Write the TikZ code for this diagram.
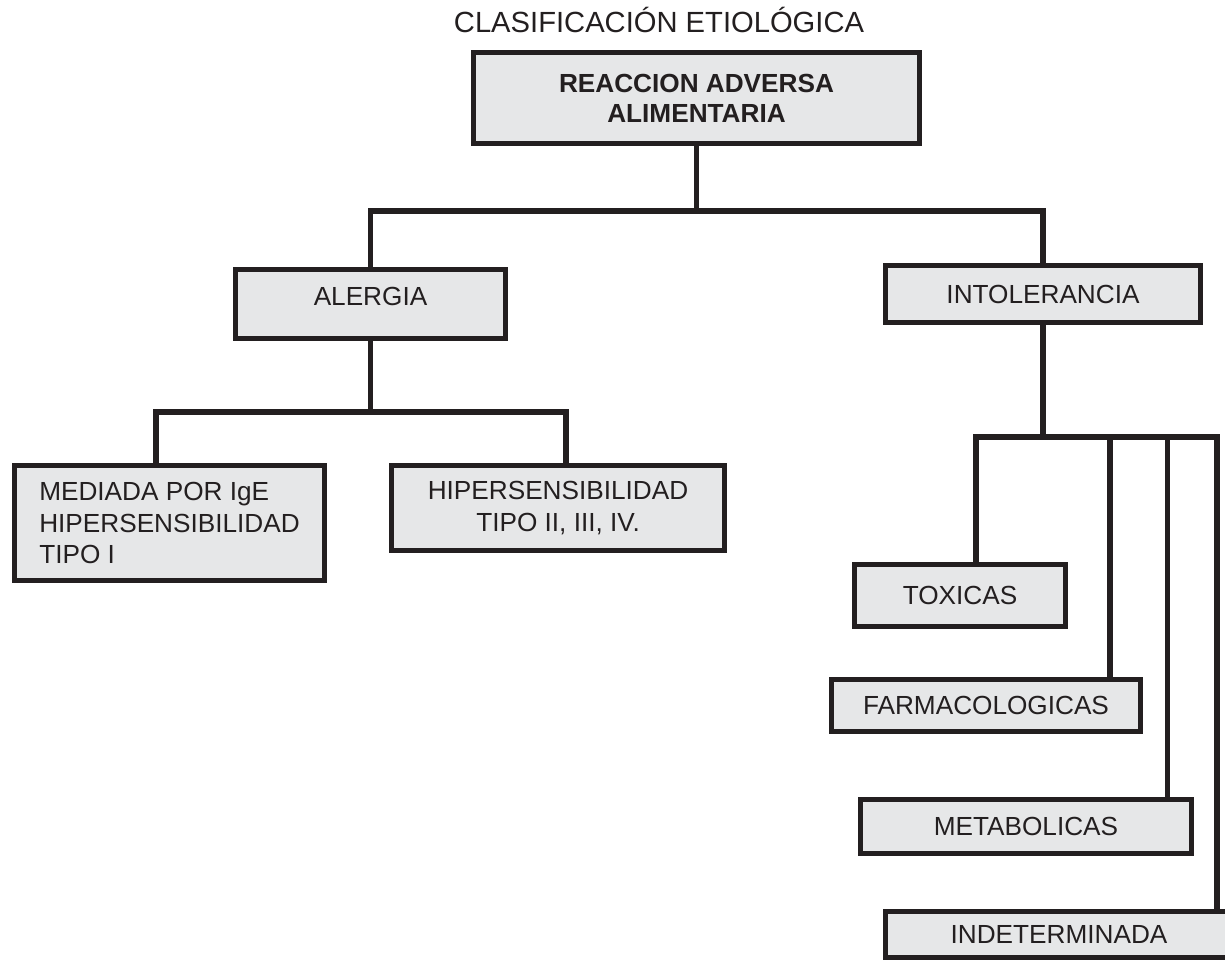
\documentclass[tikz,border=0pt]{standalone}
\usepackage{fontspec}
\setmainfont{Liberation Sans}
\definecolor{ink}{HTML}{231F20}
\definecolor{boxgray}{HTML}{E6E7E8}
\tikzset{
    box/.style={draw=ink, fill=boxgray, line width=3.1pt, inner sep=0pt, outer sep=0pt,
        text=ink, font=\fontsize{14.9}{17.8}\selectfont, align=center},
    tag/.style={box, text height=0.375cm, text depth=0cm},
    wire/.style={draw=ink, line width=3.2pt},
}
\begin{document}
\begin{tikzpicture}
        \clip (0,0) rectangle (24.5,-19.2);
        %% title
        \node[anchor=base, text=ink, font=\fontsize{16.6}{19}\selectfont] (title) at (13.18,-0.66) {CLASIFICACIÓN ETIOLÓGICA};
        %% root
        \node[box, font=\fontsize{14.9}{17}\selectfont\bfseries, minimum width=8.92cm, minimum height=1.82cm] (raa) at (13.93,-1.96) {REACCION ADVERSA\\ALIMENTARIA};
        %% first level
        \node[tag, text depth=0.32cm, minimum width=5.40cm, minimum height=1.38cm] (alergia) at (7.41,-6.08) {ALERGIA};
        \node[tag, minimum width=6.30cm, minimum height=1.14cm] (intol) at (20.86,-5.88) {INTOLERANCIA};
        %% alergia branch
        \node[box, align=left, minimum width=6.20cm, minimum height=2.30cm] (mediada) at (3.39,-10.46) {MEDIADA POR IgE\\HIPERSENSIBILIDAD\\TIPO I};
        \node[box, minimum width=6.66cm, minimum height=1.70cm] (hiper) at (11.16,-10.16) {HIPERSENSIBILIDAD\\TIPO II, III, IV.};
        %% intolerancia branch
        \node[tag, minimum width=4.22cm, minimum height=1.24cm] (toxicas) at (19.20,-11.91) {TOXICAS};
        \node[tag, minimum width=6.18cm, minimum height=1.04cm] (farma) at (19.72,-14.11) {FARMACOLOGICAS};
        \node[tag, minimum width=6.62cm, minimum height=1.08cm] (metab) at (20.52,-16.53) {METABOLICAS};
        \node[tag, minimum width=6.94cm, minimum height=0.92cm] (indet) at (21.18,-18.69) {INDETERMINADA};
        %% connectors
        \path (raa.south) ++(0,-1.35) coordinate (rjoin);
        \draw[wire] (raa.south) -- (rjoin);
        \draw[wire] (alergia.north) |- (rjoin) -| (intol.north);
        \path (alergia.south) ++(0,-1.47) coordinate (ajoin);
        \draw[wire] (alergia.south) -- (ajoin);
        \draw[wire] ([xshift=-0.27cm]mediada.north) |- (ajoin) -| ([xshift=0.16cm]hiper.north);
        \path (intol.south) ++(0,-2.29) coordinate (ijoin);
        \draw[wire] (intol.south) -- (ijoin);
        \foreach \n/\dx in {toxicas/0.32,farma/2.48,metab/2.83,indet/3.16} {
            \draw[wire] ([xshift=\dx cm]\n.north) |- (ijoin);
        }
    \end{tikzpicture}
\end{document}
